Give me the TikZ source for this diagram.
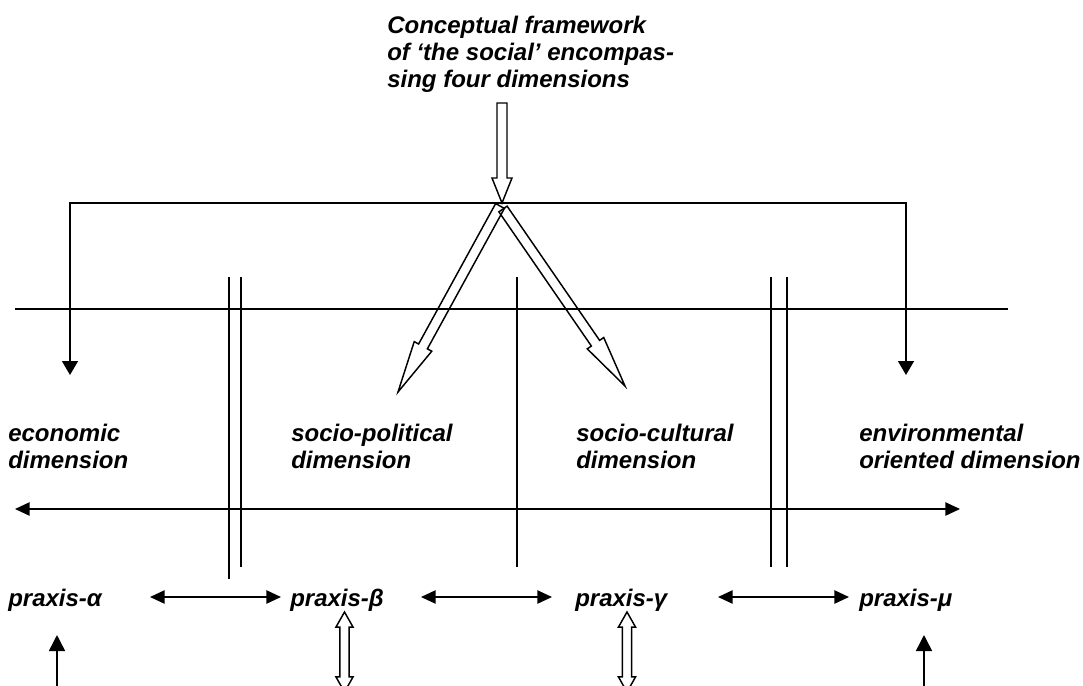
\documentclass[tikz,border=0pt]{standalone}
\usepackage{fontspec}
\setmainfont{Liberation Sans}
\usetikzlibrary{arrows.meta,calc}

\tikzset{
    lbl/.style={font=\bfseries\itshape\fontsize{18}{20.4}\selectfont, inner sep=0pt, align=left},
    thinline/.style={black, line width=1.1pt},
    hollow/.style={black, line width=1.1pt, line join=miter},
    downhead/.style={-{Triangle[length=10.5pt,width=12pt]}},
    uphead/.style={-{Triangle[length=12pt,width=12pt]}},
    bothheads/.style={{Triangle[length=11pt,width=10pt]}-{Triangle[length=11pt,width=10pt]}}
}

% hollow block arrow: tail, tip, half shaft, half head, head length
\newcommand{\hollowarrow}[5]{%
    \coordinate (hab) at ($(#2)!#5!(#1)$);
    \draw[hollow] ($(#1)!#3!90:(#2)$) -- ($(hab)!#3!90:(#2)$) -- ($(hab)!#4!90:(#2)$) -- (#2)
        -- ($(hab)!#4!-90:(#2)$) -- ($(hab)!#3!-90:(#2)$) -- ($(#1)!#3!-90:(#2)$) -- cycle;
}
% same with a head at both ends
\newcommand{\hollowdarrow}[5]{%
    \coordinate (hab) at ($(#2)!#5!(#1)$);
    \coordinate (haa) at ($(#1)!#5!(#2)$);
    \draw[hollow] (#1) -- ($(haa)!#4!90:(#2)$) -- ($(haa)!#3!90:(#2)$) -- ($(hab)!#3!90:(#2)$)
        -- ($(hab)!#4!90:(#2)$) -- (#2) -- ($(hab)!#4!-90:(#2)$) -- ($(hab)!#3!-90:(#2)$)
        -- ($(haa)!#3!-90:(#2)$) -- ($(haa)!#4!-90:(#2)$) -- cycle;
}

\begin{document}
\begin{tikzpicture}[x=0.75pt, y=-0.75pt]
        \path[use as bounding box, clip] (0,0) rectangle (1083,686);

        % texts
        \node[lbl, anchor=north west] (frame) at (387,15.5) {Conceptual framework\\of ‘the social’ encompas-\\sing four dimensions};
        \node[lbl, anchor=north west] (eco) at (8,423.5) {economic\\dimension};
        \node[lbl, anchor=north west] (pol) at (291,423.5) {socio-political\\dimension};
        \node[lbl, anchor=north west] (cul) at (576,423.5) {socio-cultural\\dimension};
        \node[lbl, anchor=north west] (env) at (859,423.5) {environmental\\oriented dimension};
        \node[lbl, anchor=base west] (pa) at (8,606.7) {praxis-α};
        \node[lbl, anchor=base west] (pb) at (290,606.7) {praxis-β};
        \node[lbl, anchor=base west] (pg) at (575,606.7) {praxis-γ};
        \node[lbl, anchor=base west] (pm) at (859,606.7) {praxis-μ};

        % points
        \coordinate (frametail) at (502,103);
        \coordinate (hub) at (502,203);
        \coordinate (poltail) at (500,206);
        \coordinate (poltip) at (398,392);
        \coordinate (cultail) at (503,209);
        \coordinate (cultip) at (625,386);
        \coordinate (ecotip) at (70,375);
        \coordinate (envtip) at (906,375);
        \coordinate (sepW) at (15,309);
        \coordinate (sepE) at (1008,309);
        \coordinate (axisW) at (15,509);
        \coordinate (axisE) at (960,509);
        \coordinate (pbtop) at (344.5,612);
        \coordinate (pbbot) at (344.5,692);
        \coordinate (pgtop) at (627,612);
        \coordinate (pgbot) at (627,692);
        \coordinate (pafoot) at (57,690);
        \coordinate (patip) at (57,635);
        \coordinate (pmfoot) at (924,690);
        \coordinate (pmtip) at (924,635);
        \coordinate (abL) at (150,597);
        \coordinate (abR) at (281,597);
        \coordinate (bgL) at (421,597);
        \coordinate (bgR) at (552,597);
        \coordinate (gmL) at (718,597);
        \coordinate (gmR) at (849,597);

        % frame to the four dimensions
        \hollowarrow{frametail}{hub}{3.75pt}{7.5pt}{18.75pt}
        \draw[thinline, downhead] (hub) -- (ecotip |- hub) -- (ecotip);
        \draw[thinline, downhead] (hub) -- (envtip |- hub) -- (envtip);
        \hollowarrow{poltail}{poltip}{3.75pt}{7.5pt}{39pt}
        \hollowarrow{cultail}{cultip}{3.75pt}{7.5pt}{39pt}

        % grid
        \draw[thinline] (sepW) -- (sepE);
        \draw[thinline] (229,277) -- (229,579);
        \draw[thinline] (241,277) -- (241,567);
        \draw[thinline] (517,277) -- (517,567);
        \draw[thinline] (771,277) -- (771,567);
        \draw[thinline] (787,277) -- (787,567);
        \draw[thinline, bothheads] (axisW) -- (axisE);

        % praxis row
        \draw[thinline, bothheads] (abL) -- (abR);
        \draw[thinline, bothheads] (bgL) -- (bgR);
        \draw[thinline, bothheads] (gmL) -- (gmR);
        \hollowdarrow{pbtop}{pbbot}{3.4pt}{6.4pt}{11.3pt}
        \hollowdarrow{pgtop}{pgbot}{3.4pt}{6.4pt}{11.3pt}
        \draw[thinline, uphead] (pafoot) -- (patip);
        \draw[thinline, uphead] (pmfoot) -- (pmtip);
    \end{tikzpicture}
\end{document}
